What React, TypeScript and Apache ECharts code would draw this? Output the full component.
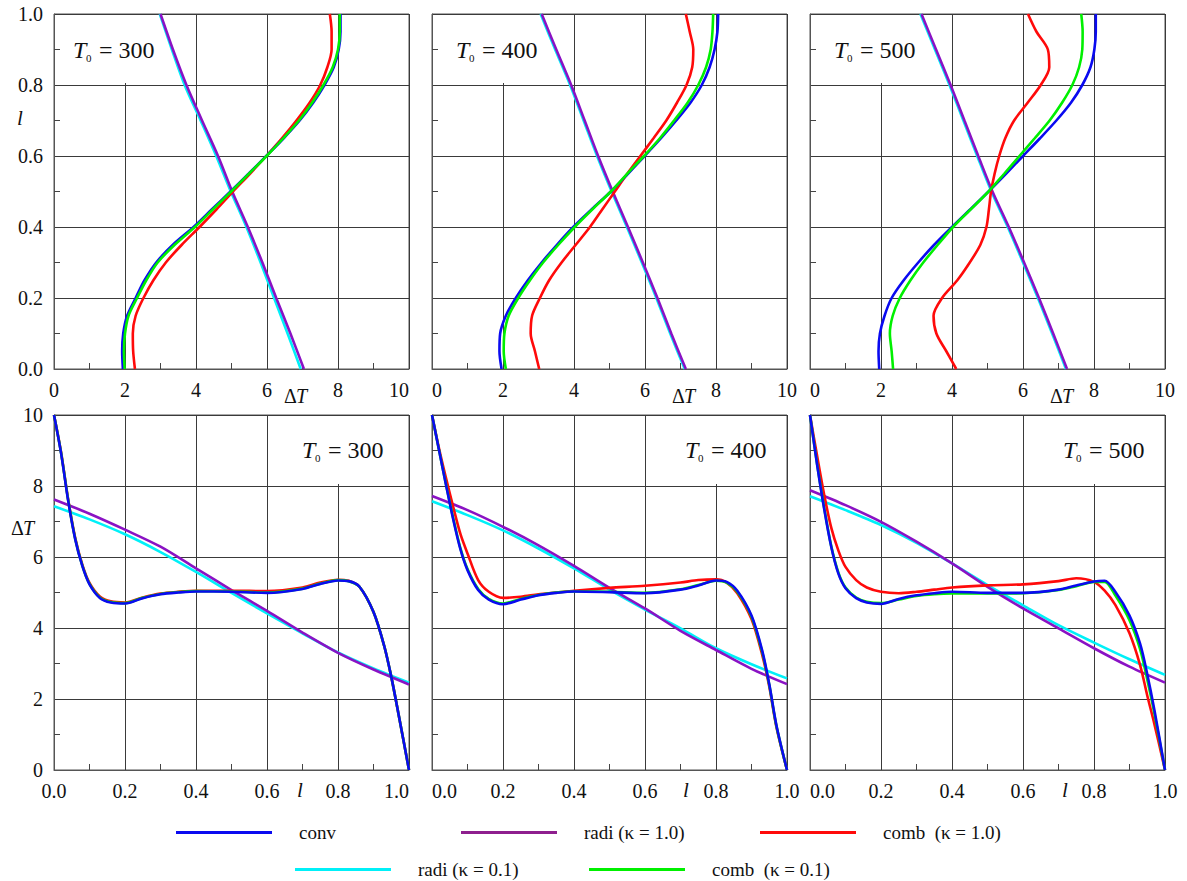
import React, { useEffect, useRef } from "react";
import * as echarts from "echarts";

// ---------- data ----------
const T0_VALUES = [300, 400, 500];

// top row: l on the vertical axis, ΔT on the horizontal axis
const L_TOP = [0, 0.05, 0.1, 0.15, 0.2, 0.25, 0.3, 0.35, 0.4, 0.45, 0.5, 0.55, 0.6, 0.65, 0.7, 0.75, 0.8, 0.85, 0.9, 0.95, 1.0];
const L_RAD = [0, 0.1, 0.2, 0.3, 0.4, 0.5, 0.6, 0.7, 0.8, 0.9, 1.0];

const top300Conv = [1.94, 1.92, 1.95, 2.06, 2.3, 2.55, 2.88, 3.35, 3.93, 4.45, 4.97, 5.48, 5.98, 6.47, 6.92, 7.3, 7.62, 7.88, 8.02, 8.07, 8.07];
const top300CombLow = [1.99, 1.97, 2.0, 2.1, 2.34, 2.6, 2.92, 3.4, 3.97, 4.48, 4.99, 5.49, 5.99, 6.46, 6.9, 7.27, 7.59, 7.85, 8.0, 8.05, 8.05];
const top300CombHigh = [2.28, 2.23, 2.22, 2.3, 2.52, 2.8, 3.15, 3.6, 4.1, 4.58, 5.04, 5.52, 5.98, 6.42, 6.83, 7.2, 7.5, 7.7, 7.82, 7.82, 7.77];
const top300RadiHigh = [7.04, 6.66, 6.26, 5.87, 5.46, 5.02, 4.62, 4.17, 3.73, 3.35, 3.0];
const top300RadiLow = [6.95, 6.58, 6.2, 5.82, 5.42, 4.98, 4.57, 4.13, 3.68, 3.32, 2.98];

const top400Conv = [1.96, 1.9, 1.92, 2.08, 2.36, 2.7, 3.09, 3.52, 3.98, 4.5, 5.04, 5.52, 5.99, 6.45, 6.88, 7.28, 7.6, 7.82, 7.96, 8.04, 8.06];
const top400CombLow = [2.08, 2.02, 2.04, 2.16, 2.43, 2.76, 3.13, 3.56, 4.02, 4.52, 5.04, 5.5, 5.97, 6.42, 6.82, 7.2, 7.5, 7.72, 7.85, 7.9, 7.92];
const top400CombHigh = [3.02, 2.9, 2.78, 2.82, 3.04, 3.3, 3.65, 4.05, 4.45, 4.8, 5.15, 5.5, 5.87, 6.24, 6.6, 6.9, 7.17, 7.33, 7.36, 7.26, 7.15];
const top400RadiHigh = [7.15, 6.74, 6.35, 5.94, 5.52, 5.09, 4.68, 4.3, 3.92, 3.5, 3.09];
const top400RadiLow = [7.12, 6.71, 6.32, 5.91, 5.49, 5.06, 4.65, 4.27, 3.89, 3.47, 3.06];

const top500Conv = [1.95, 1.93, 1.97, 2.1, 2.3, 2.64, 3.05, 3.5, 4.0, 4.52, 5.03, 5.52, 6.0, 6.48, 6.94, 7.35, 7.67, 7.9, 8.01, 8.05, 8.05];
const top500CombLow = [2.34, 2.3, 2.25, 2.33, 2.53, 2.83, 3.19, 3.6, 4.03, 4.53, 5.03, 5.47, 5.9, 6.33, 6.75, 7.1, 7.39, 7.58, 7.67, 7.68, 7.64];
const top500CombHigh = [4.12, 3.84, 3.56, 3.48, 3.72, 4.15, 4.5, 4.8, 4.97, 5.04, 5.1, 5.2, 5.33, 5.5, 5.75, 6.13, 6.5, 6.74, 6.7, 6.38, 6.14];
const top500RadiHigh = [7.24, 6.85, 6.45, 6.03, 5.6, 5.14, 4.74, 4.35, 3.96, 3.55, 3.14];
const top500RadiLow = [7.21, 6.82, 6.42, 6.0, 5.57, 5.11, 4.71, 4.32, 3.93, 3.52, 3.11];

// bottom row: l on the horizontal axis, ΔT on the vertical axis
const L_BOT = [0, 0.02, 0.04, 0.06, 0.08, 0.1, 0.13, 0.16, 0.2, 0.25, 0.3, 0.35, 0.4, 0.5, 0.6, 0.7, 0.75, 0.8, 0.83, 0.86, 0.9, 0.93, 0.95, 0.97, 1.0];

const bot300Conv = [10.0, 8.92, 7.58, 6.49, 5.74, 5.23, 4.84, 4.72, 4.69, 4.84, 4.95, 5.0, 5.03, 5.02, 4.99, 5.1, 5.24, 5.34, 5.32, 5.17, 4.45, 3.5, 2.63, 1.6, 0];
const bot300CombLow = [10.0, 8.93, 7.6, 6.5, 5.75, 5.24, 4.85, 4.73, 4.7, 4.85, 4.96, 5.01, 5.04, 5.03, 5.0, 5.11, 5.25, 5.35, 5.32, 5.17, 4.45, 3.5, 2.63, 1.6, 0];
const bot300CombHigh = [10.0, 8.95, 7.62, 6.53, 5.78, 5.27, 4.88, 4.75, 4.72, 4.86, 4.97, 5.02, 5.05, 5.05, 5.04, 5.14, 5.28, 5.36, 5.33, 5.17, 4.45, 3.5, 2.63, 1.6, 0];
const bot300RadiHigh = [7.62, 7.22, 6.77, 6.29, 5.68, 5.07, 4.48, 3.87, 3.3, 2.83, 2.41];
const bot300RadiLow = [7.43, 7.06, 6.64, 6.14, 5.58, 4.99, 4.41, 3.85, 3.31, 2.86, 2.46];

const bot400Conv = [10.0, 9.0, 8.0, 7.05, 6.22, 5.63, 5.07, 4.8, 4.67, 4.8, 4.92, 4.99, 5.03, 5.01, 4.98, 5.08, 5.2, 5.34, 5.3, 5.05, 4.35, 3.37, 2.42, 1.27, 0];
const bot400CombLow = [10.0, 9.0, 8.02, 7.08, 6.25, 5.66, 5.1, 4.82, 4.69, 4.82, 4.93, 5.0, 5.03, 5.02, 4.99, 5.09, 5.21, 5.33, 5.28, 5.02, 4.32, 3.33, 2.4, 1.25, 0];
const bot400CombHigh = [10.0, 9.05, 8.2, 7.4, 6.65, 6.1, 5.35, 5.02, 4.85, 4.88, 4.95, 5.0, 5.05, 5.13, 5.19, 5.28, 5.35, 5.37, 5.28, 4.98, 4.25, 3.25, 2.35, 1.22, 0];
const bot400RadiHigh = [7.72, 7.32, 6.85, 6.33, 5.75, 5.13, 4.55, 3.92, 3.38, 2.85, 2.42];
const bot400RadiLow = [7.57, 7.18, 6.75, 6.24, 5.68, 5.08, 4.52, 3.99, 3.43, 2.98, 2.58];

const bot500Conv = [10.0, 8.6, 7.35, 6.28, 5.53, 5.12, 4.84, 4.72, 4.68, 4.82, 4.92, 4.98, 5.02, 4.99, 4.99, 5.08, 5.2, 5.31, 5.33, 5.02, 4.35, 3.55, 2.7, 1.7, 0];
const bot500CombLow = [10.0, 8.62, 7.38, 6.3, 5.56, 5.14, 4.86, 4.74, 4.7, 4.8, 4.9, 4.95, 4.97, 4.97, 4.98, 5.07, 5.18, 5.3, 5.3, 4.92, 4.22, 3.4, 2.55, 1.6, 0];
const bot500CombHigh = [10.0, 8.85, 7.75, 6.82, 6.18, 5.72, 5.35, 5.14, 5.02, 4.98, 5.02, 5.08, 5.14, 5.2, 5.23, 5.32, 5.4, 5.3, 5.05, 4.65, 3.85, 2.95, 2.1, 1.3, 0];
const bot500RadiHigh = [7.88, 7.46, 6.99, 6.43, 5.82, 5.16, 4.55, 3.99, 3.43, 2.91, 2.46];
const bot500RadiLow = [7.71, 7.32, 6.9, 6.4, 5.82, 5.21, 4.64, 4.08, 3.59, 3.12, 2.68];

const TOP_X_TICKS = [0, 10, 2]; // min, max, interval (ΔT)
const TOP_Y_TICKS = [0, 1, 0.2]; // l
const BOT_X_TICKS = [0, 1, 0.2]; // l
const BOT_Y_TICKS = [0, 10, 2]; // ΔT

// ---------- names / styles ----------
const S_CONV = "conv";
const S_RADI_HI = "radi (κ = 1.0)";
const S_COMB_HI = "comb  (κ = 1.0)";
const S_RADI_LO = "radi (κ = 0.1)";
const S_COMB_LO = "comb  (κ = 0.1)";

const C_CONV = "#0a0af0";
const C_RADI_HI = "#8a12c4";
const C_RADI_HI_LEG = "#8e1f8e";
const C_COMB_HI = "#ff0a0a";
const C_RADI_LO = "#00f0f8";
const C_COMB_LO = "#00f000";

const FONT = "Liberation Serif, Times New Roman, serif";
const GRID_LEFTS = [54, 432, 810];
const GRID_TOPS = [14, 415];
const GRID_SIZE = 355;

function lineSeries(name: string, color: string, grid: number, data: number[][], z: number) {
  return {
    type: "line",
    name,
    id: name + "_" + grid,
    xAxisIndex: grid,
    yAxisIndex: grid,
    data,
    smooth: 0.3,
    showSymbol: false,
    symbol: "none",
    z,
    lineStyle: { color, width: 2.6 },
    itemStyle: { color },
    emphasis: { disabled: true },
  };
}

function topPanel(grid: number, conv: number[], combLo: number[], combHi: number[], radiHi: number[], radiLo: number[]) {
  const byL = (vals: number[], ls: number[]) => ls.map((l, i) => [vals[i], l]);
  return [
    lineSeries(S_RADI_LO, C_RADI_LO, grid, byL(radiLo, L_RAD), 2),
    lineSeries(S_RADI_HI, C_RADI_HI, grid, byL(radiHi, L_RAD), 3),
    lineSeries(S_COMB_HI, C_COMB_HI, grid, byL(combHi, L_TOP), 4),
    lineSeries(S_CONV, C_CONV, grid, byL(conv, L_TOP), 5),
    lineSeries(S_COMB_LO, C_COMB_LO, grid, byL(combLo, L_TOP), 6),
  ];
}

function botPanel(grid: number, conv: number[], combLo: number[], combHi: number[], radiHi: number[], radiLo: number[]) {
  const byL = (vals: number[], ls: number[]) => ls.map((l, i) => [l, vals[i]]);
  return [
    lineSeries(S_RADI_LO, C_RADI_LO, grid, byL(radiLo, L_RAD), 2),
    lineSeries(S_RADI_HI, C_RADI_HI, grid, byL(radiHi, L_RAD), 3),
    lineSeries(S_COMB_HI, C_COMB_HI, grid, byL(combHi, L_BOT), 4),
    lineSeries(S_COMB_LO, C_COMB_LO, grid, byL(combLo, L_BOT), 5),
    lineSeries(S_CONV, C_CONV, grid, byL(conv, L_BOT), 6),
  ];
}

function axis(dim: "x" | "y", grid: number, col: number, ticks: number[], showLabel: boolean, digits: number) {
  const label: any = {
    show: showLabel,
    showMinLabel: true,
    showMaxLabel: true,
    margin: 11,
    fontFamily: FONT,
    fontSize: 20,
    color: "#111",
    formatter: (v: number) => v.toFixed(digits),
  };
  if (dim === "x") {
    if (col === 0) label.alignMaxLabel = "right";
    else label.alignMinLabel = "left";
  }
  return {
    type: "value",
    gridIndex: grid,
    min: ticks[0],
    max: ticks[1],
    interval: ticks[2],
    axisLine: { show: true, onZero: false, lineStyle: { color: "#555", width: 1 } },
    axisTick: { show: false, inside: true },
    minorTick: { show: true, splitNumber: 2, length: 6, lineStyle: { color: "#444", width: 1 } },
    splitLine: { show: true, lineStyle: { color: "#3a3a3a", width: 1 } },
    minorSplitLine: { show: false },
    axisLabel: label,
  };
}

function t0Label(x: number, y: number, value: number) {
  return [
    { type: "text", x, y, z: 10, style: { text: "T", fontFamily: FONT, fontSize: 24, fontStyle: "italic", fill: "#111", textVerticalAlign: "middle" } },
    { type: "text", x: x + 13, y: y + 8, z: 10, style: { text: "0", fontFamily: FONT, fontSize: 11, fill: "#111", textVerticalAlign: "middle" } },
    { type: "text", x: x + 26, y, z: 10, style: { text: "= " + value, fontFamily: FONT, fontSize: 24, fill: "#111", textVerticalAlign: "middle" } },
  ];
}

function deltaT(x: number, y: number) {
  return [
    { type: "text", x, y, z: 10, style: { text: "Δ", fontFamily: FONT, fontSize: 20, fill: "#111", textVerticalAlign: "middle" } },
    { type: "text", x: x + 12, y, z: 10, style: { text: "T", fontFamily: FONT, fontSize: 20, fontStyle: "italic", fill: "#111", textVerticalAlign: "middle" } },
  ];
}

function ellLabel(x: number, y: number) {
  return { type: "text", x, y, z: 10, style: { text: "l", fontFamily: FONT, fontSize: 21, fontStyle: "italic", fill: "#111", textVerticalAlign: "middle" } };
}

function legendItem(name: string, color: string, left: number, top: number) {
  return {
    show: true,
    left,
    top,
    padding: 0,
    selectedMode: false,
    icon: "rect",
    itemWidth: 96,
    itemHeight: 3,
    data: [{ name, icon: "rect", itemStyle: { color, borderWidth: 0 } }],
    textStyle: { fontFamily: FONT, fontSize: 19, color: "#111", padding: [0, 0, 0, 22] },
  };
}

export default function App() {
  const ref = useRef<HTMLDivElement>(null);

  useEffect(() => {
    if (!ref.current) return;
    const chart = echarts.init(ref.current, undefined, { renderer: "svg" });

    const grids: any[] = [];
    const xAxes: any[] = [];
    const yAxes: any[] = [];
    for (let r = 0; r < 2; r++) {
      for (let c = 0; c < 3; c++) {
        const g = r * 3 + c;
        grids.push({
          left: GRID_LEFTS[c],
          top: GRID_TOPS[r],
          width: GRID_SIZE,
          height: GRID_SIZE,
          show: true,
          borderColor: "#555",
          borderWidth: 1,
          backgroundColor: "transparent",
        });
        if (r === 0) {
          xAxes.push(axis("x", g, c, TOP_X_TICKS, true, 0));
          yAxes.push(axis("y", g, c, TOP_Y_TICKS, c === 0, 1));
        } else {
          xAxes.push(axis("x", g, c, BOT_X_TICKS, true, 1));
          yAxes.push(axis("y", g, c, BOT_Y_TICKS, c === 0, 0));
        }
      }
    }

    const series = [
      ...topPanel(0, top300Conv, top300CombLow, top300CombHigh, top300RadiHigh, top300RadiLow),
      ...topPanel(1, top400Conv, top400CombLow, top400CombHigh, top400RadiHigh, top400RadiLow),
      ...topPanel(2, top500Conv, top500CombLow, top500CombHigh, top500RadiHigh, top500RadiLow),
      ...botPanel(3, bot300Conv, bot300CombLow, bot300CombHigh, bot300RadiHigh, bot300RadiLow),
      ...botPanel(4, bot400Conv, bot400CombLow, bot400CombHigh, bot400RadiHigh, bot400RadiLow),
      ...botPanel(5, bot500Conv, bot500CombLow, bot500CombHigh, bot500RadiHigh, bot500RadiLow),
    ];

    const graphics: any[] = [];
    const topOffsets = [19, 24, 24];
    const botOffsets = [248, 253, 253];
    const nameOffsets = [230, 240, 240];
    const ellOffsets = [243, 251, 252];
    for (let c = 0; c < 3; c++) {
      const L = GRID_LEFTS[c];
      graphics.push({ type: "rect", z: 1, shape: { x: L + 8, y: GRID_TOPS[0] + 1, width: 96, height: 68 }, style: { fill: "#fff" } });
      graphics.push(...t0Label(L + topOffsets[c], GRID_TOPS[0] + 36, T0_VALUES[c]));
      graphics.push({ type: "rect", z: 1, shape: { x: L + 240, y: GRID_TOPS[1] + 1, width: 114, height: 68 }, style: { fill: "#fff" } });
      graphics.push(...t0Label(L + botOffsets[c], GRID_TOPS[1] + 35, T0_VALUES[c]));
      graphics.push(...deltaT(L + nameOffsets[c], GRID_TOPS[0] + GRID_SIZE + 27));
      graphics.push(ellLabel(L + ellOffsets[c], GRID_TOPS[1] + GRID_SIZE + 20));
    }
    graphics.push(ellLabel(17, 118));
    graphics.push(...deltaT(11, 528));

    chart.setOption({
      animation: false,
      backgroundColor: "#fff",
      textStyle: { fontFamily: FONT },
      grid: grids,
      xAxis: xAxes,
      yAxis: yAxes,
      series,
      graphic: { elements: graphics },
      legend: [
        legendItem(S_CONV, C_CONV, 176, 823),
        legendItem(S_RADI_HI, C_RADI_HI_LEG, 461, 823),
        legendItem(S_COMB_HI, C_COMB_HI, 760, 823),
        legendItem(S_RADI_LO, C_RADI_LO, 295, 860),
        legendItem(S_COMB_LO, C_COMB_LO, 589, 860),
      ],
    });

    return () => chart.dispose();
  }, []);

  return <div ref={ref} style={{ position: "absolute", left: 0, top: 0, width: 1187, height: 881 }} />;
}
